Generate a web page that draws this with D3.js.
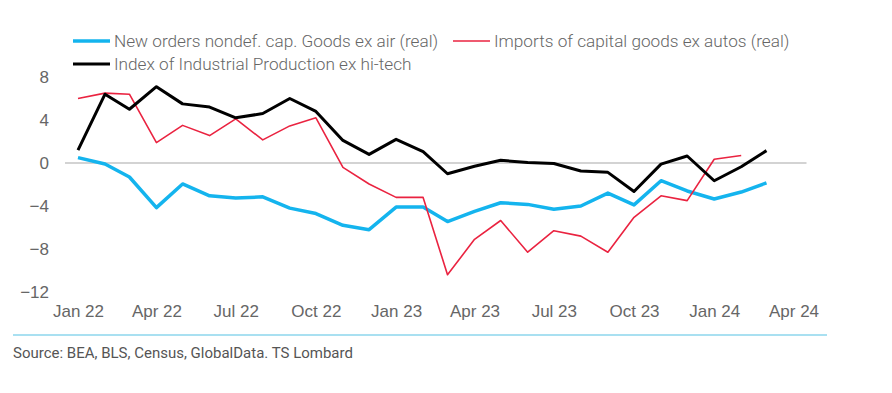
<!DOCTYPE html>
<html>
<head>
<meta charset="utf-8">
<script src="https://cdn.jsdelivr.net/npm/d3@7"></script>
<style>
  body { margin: 0; background: #fff; }
  svg { display: block; font-family: Roboto, "Noto Sans", sans-serif; }
</style>
</head>
<body>
<svg id="chart" width="892" height="393"></svg>
<script>
// Global settings
let W = 892
let H = 393
let textColor = "#666666"

// Monthly categories, Jan 2022 .. Mar 2024
let months = [
  "2022-01","2022-02","2022-03","2022-04","2022-05","2022-06","2022-07","2022-08","2022-09",
  "2022-10","2022-11","2022-12","2023-01","2023-02","2023-03","2023-04","2023-05","2023-06",
  "2023-07","2023-08","2023-09","2023-10","2023-11","2023-12","2024-01","2024-02","2024-03"
]

// Series values (% y/y)
let newOrders = [0.5, -0.1, -1.3, -4.15, -1.95, -3.05, -3.25, -3.15, -4.2, -4.7, -5.8, -6.2,
  -4.1, -4.1, -5.45, -4.5, -3.7, -3.85, -4.3, -4.0, -2.8, -3.9, -1.65, -2.6, -3.35, -2.7, -1.85]
let imports = [6.0, 6.5, 6.4, 1.9, 3.5, 2.55, 4.1, 2.15, 3.45, 4.2, -0.4, -1.95,
  -3.2, -3.2, -10.4, -7.1, -5.35, -8.3, -6.3, -6.8, -8.3, -5.05, -3.05, -3.5, 0.35, 0.7]
let indProd = [1.2, 6.4, 5.0, 7.1, 5.5, 5.2, 4.2, 4.6, 6.0, 4.8, 2.1, 0.8,
  2.2, 1.05, -1.0, -0.3, 0.25, 0.05, -0.05, -0.75, -0.87, -2.65, -0.1, 0.65, -1.65, -0.35, 1.15]

let yTicks = [8, 4, 0, -4, -8, -12]
let xTicks = ["2022-01","2022-04","2022-07","2022-10","2023-01","2023-04","2023-07","2023-10","2024-01","2024-04"]

let series = [
  { name: "New orders nondef. cap. Goods ex air (real)", values: newOrders, color: "#14b4ee", width: 3.5 },
  { name: "Imports of capital goods ex autos (real)", values: imports, color: "#ea2340", width: 1.6 },
  { name: "Index of Industrial Production ex hi-tech", values: indProd, color: "#000000", width: 3 }
]

let parseMonth = d3.timeParse("%Y-%m")

let svg = d3.select("#chart")

// Scales
let x = d3.scaleTime()
  .domain([parseMonth("2022-01"), parseMonth("2024-04")])
  .range([78, 793.5])
let y = d3.scaleLinear()
  .domain([-12, 8])
  .range([292, 77])

// Zero line
svg.append("line")
  .attr("x1", x(parseMonth("2022-01")) - 13)
  .attr("x2", x(parseMonth("2024-04")) + 13)
  .attr("y1", y(0)).attr("y2", y(0))
  .attr("stroke", "#c4c4c4")
  .attr("stroke-width", 1.5)

// Y axis (labels only)
let yAxis = svg.append("g")
  .attr("transform", "translate(49,0)")
  .call(d3.axisLeft(y).tickValues(yTicks).tickSize(0).tickPadding(0).tickFormat(d3.format("d")))
yAxis.select(".domain").remove()
yAxis.selectAll("text")
  .attr("fill", textColor)
  .style("font-size", "17px")
  .style("font-weight", 300)

// X axis (labels only)
let xAxis = svg.append("g")
  .attr("transform", "translate(0,305)")
  .call(d3.axisBottom(x).tickValues(xTicks.map(parseMonth)).tickSize(0).tickPadding(0)
    .tickFormat(d3.timeFormat("%b %y")))
xAxis.select(".domain").remove()
xAxis.selectAll("text")
  .attr("fill", textColor)
  .style("font-size", "17px")
  .style("font-weight", 300)

// Lines
let line = d3.line()
  .x((d, i) => x(parseMonth(months[i])))
  .y(d => y(d))

svg.selectAll("path.series")
  .data(series)
  .enter()
  .append("path")
  .attr("class", "series")
  .attr("d", d => line(d.values))
  .attr("fill", "none")
  .attr("stroke", d => d.color)
  .attr("stroke-width", d => d.width)
  .attr("stroke-linejoin", "round")

// Legend
let legendPos = [[73, 41], [453, 41], [73, 64]]
let legend = svg.selectAll("g.legend")
  .data(series)
  .enter()
  .append("g")
  .attr("class", "legend")
  .attr("transform", (d, i) => "translate(" + legendPos[i][0] + "," + legendPos[i][1] + ")")
legend.append("line")
  .attr("x1", 0).attr("x2", 37)
  .attr("stroke", d => d.color)
  .attr("stroke-width", d => d.width)
legend.append("text")
  .attr("x", 41)
  .attr("dy", "0.35em")
  .attr("fill", textColor)
  .style("font-size", "17.2px")
  .style("font-weight", 300)
  .text(d => d.name)

// Bottom rule and source
svg.append("line")
  .attr("x1", 13).attr("x2", 827)
  .attr("y1", 335).attr("y2", 335)
  .attr("stroke", "#a9e0f1")
  .attr("stroke-width", 2)

svg.append("text")
  .attr("x", 13)
  .attr("y", 358)
  .attr("fill", "#555")
  .style("font-size", "15px")
  .text("Source: BEA, BLS, Census, GlobalData. TS Lombard")
</script>
</body>
</html>
